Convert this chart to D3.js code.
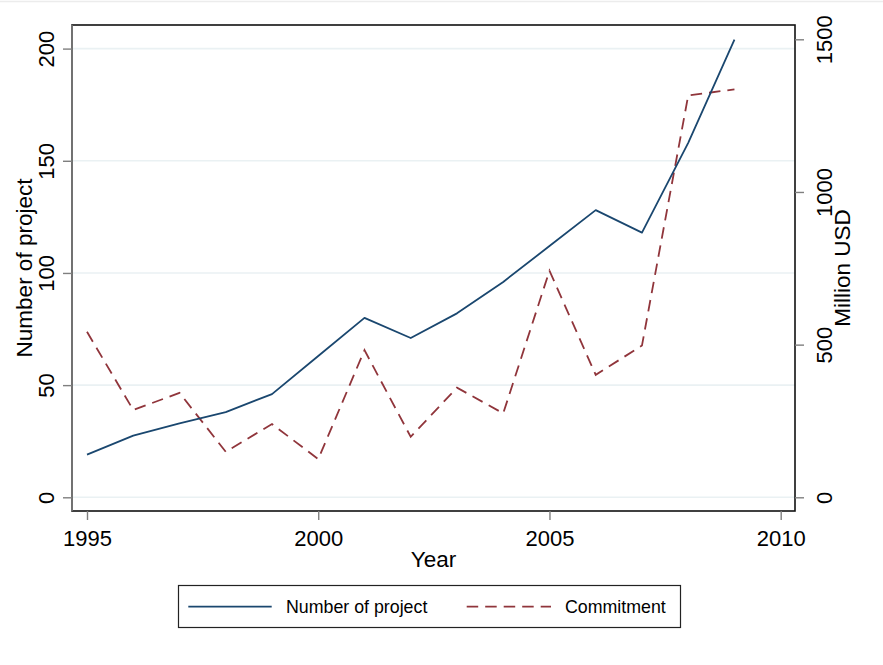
<!DOCTYPE html>
<html>
<head>
<meta charset="utf-8">
<script src="https://cdn.jsdelivr.net/npm/d3@7"></script>
<style>
  html, body { margin: 0; padding: 0; background: #ffffff; }
  svg { display: block; font-family: "Liberation Sans", Arial, sans-serif; }
</style>
</head>
<body>
<svg id="chart" width="883" height="665"></svg>
<script>
// Yearly projects and commitments
const years = [1995, 1996, 1997, 1998, 1999, 2000, 2001, 2002, 2003, 2004, 2005, 2006, 2007, 2008, 2009];
const projects = [19, 27.5, 33, 38, 46, 63, 80, 71, 82, 96, 112, 128, 118, 158, 204];
const commitment = [542, 286, 342, 149, 240, 125, 482, 198, 359, 275, 742, 401, 497, 1316, 1336];

const xTicks = [1995, 2000, 2005, 2010];
const leftTicks = [0, 50, 100, 150, 200];
const rightTicks = [0, 500, 1000, 1500];

const seriesNames = ["Number of project", "Commitment"];

const svg = d3.select("#chart");
const plot = { left: 72, right: 795, top: 25, bottom: 511 };
const navy = "#1a476f";
const maroon = "#90353b";
const tickGray = "#7f7f7f";
const tickFont = 22;
const titleFont = 22.5;

// thin rule across the top of the canvas
svg.append("line")
  .attr("x1", 0).attr("x2", 883).attr("y1", 1.5).attr("y2", 1.5)
  .attr("stroke", "#ececec").attr("stroke-width", 1.5);

const x = d3.scaleLinear().domain([1995, 2010]).range([87, 780.7]);
const yL = d3.scaleLinear().domain([0, 200]).range([497.3, 48.6]);
const yR = d3.scaleLinear().domain([0, 1500]).range([497.3, 39.3]);

// horizontal grid at left-axis ticks
svg.append("g").selectAll("line").data(leftTicks).join("line")
  .attr("x1", plot.left).attr("x2", plot.right)
  .attr("y1", d => yL(d)).attr("y2", d => yL(d))
  .attr("stroke", "#eaf1f3").attr("stroke-width", 1.6);

// lines
const lineL = d3.line().x((d, i) => x(years[i])).y(d => yL(d));
const lineR = d3.line().x((d, i) => x(years[i])).y(d => yR(d));

svg.append("path").datum(commitment)
  .attr("d", lineR).attr("fill", "none")
  .attr("stroke", maroon).attr("stroke-width", 1.8)
  .attr("stroke-dasharray", "11.5,7");

svg.append("path").datum(projects)
  .attr("d", lineL).attr("fill", "none")
  .attr("stroke", navy).attr("stroke-width", 1.8)
  .attr("stroke-linejoin", "round");

// plot frame
svg.append("rect")
  .attr("x", plot.left).attr("y", plot.top)
  .attr("width", plot.right - plot.left).attr("height", plot.bottom - plot.top)
  .attr("fill", "none").attr("stroke", "#111").attr("stroke-width", 1.6);
svg.append("line")
  .attr("x1", plot.left).attr("x2", plot.left).attr("y1", plot.top).attr("y2", plot.bottom)
  .attr("stroke", tickGray).attr("stroke-width", 1.6);

function styleAxis(g) {
  g.select(".domain").remove();
  g.selectAll(".tick line").attr("stroke", tickGray).attr("stroke-width", 1.4);
  g.selectAll(".tick text")
    .attr("fill", "#000")
    .attr("font-size", tickFont)
    .attr("font-family", "\"Liberation Sans\", Arial, sans-serif");
}

// left axis
const gL = svg.append("g").attr("transform", `translate(${plot.left},0)`)
  .call(d3.axisLeft(yL).tickValues(leftTicks).tickSize(9).tickFormat(d3.format("d")));
styleAxis(gL);
gL.selectAll(".tick text")
  .attr("x", null).attr("dy", null)
  .attr("text-anchor", "middle")
  .attr("transform", "translate(-18.3,0) rotate(-90)");

// right axis
const gR = svg.append("g").attr("transform", `translate(${plot.right},0)`)
  .call(d3.axisRight(yR).tickValues(rightTicks).tickSize(9).tickFormat(d3.format("d")));
styleAxis(gR);
gR.selectAll(".tick text")
  .attr("x", null).attr("dy", null)
  .attr("text-anchor", "middle")
  .attr("transform", "translate(36.7,0) rotate(-90)");

// bottom axis
const gB = svg.append("g").attr("transform", `translate(0,${plot.bottom})`)
  .call(d3.axisBottom(x).tickValues(xTicks).tickSize(9).tickFormat(d3.format("d")));
styleAxis(gB);
gB.selectAll(".tick text").attr("dy", null).attr("y", 34.7);

// axis titles
svg.append("text")
  .attr("transform", "translate(31.5,268) rotate(-90)")
  .attr("text-anchor", "middle").attr("font-size", titleFont)
  .text("Number of project");
svg.append("text")
  .attr("transform", "translate(850,268) rotate(-90)")
  .attr("text-anchor", "middle").attr("font-size", titleFont)
  .text("Million USD");
svg.append("text")
  .attr("x", (plot.left + plot.right) / 2).attr("y", 566.7)
  .attr("text-anchor", "middle").attr("font-size", titleFont)
  .text("Year");

// legend
const lg = svg.append("g");
lg.append("rect")
  .attr("x", 178.5).attr("y", 585.5).attr("width", 502).attr("height", 42)
  .attr("fill", "#fff").attr("stroke", "#222").attr("stroke-width", 1.2);
lg.append("line")
  .attr("x1", 188.3).attr("x2", 271.7).attr("y1", 606.7).attr("y2", 606.7)
  .attr("stroke", navy).attr("stroke-width", 1.8);
lg.append("text").attr("x", 286).attr("y", 613.3).attr("font-size", 17.8)
  .text(seriesNames[0]);
lg.append("line")
  .attr("x1", 466.7).attr("x2", 551).attr("y1", 606.7).attr("y2", 606.7)
  .attr("stroke", maroon).attr("stroke-width", 1.8)
  .attr("stroke-dasharray", "11.5,7");
lg.append("text").attr("x", 565).attr("y", 613.3).attr("font-size", 17.8)
  .text(seriesNames[1]);
</script>
</body>
</html>
